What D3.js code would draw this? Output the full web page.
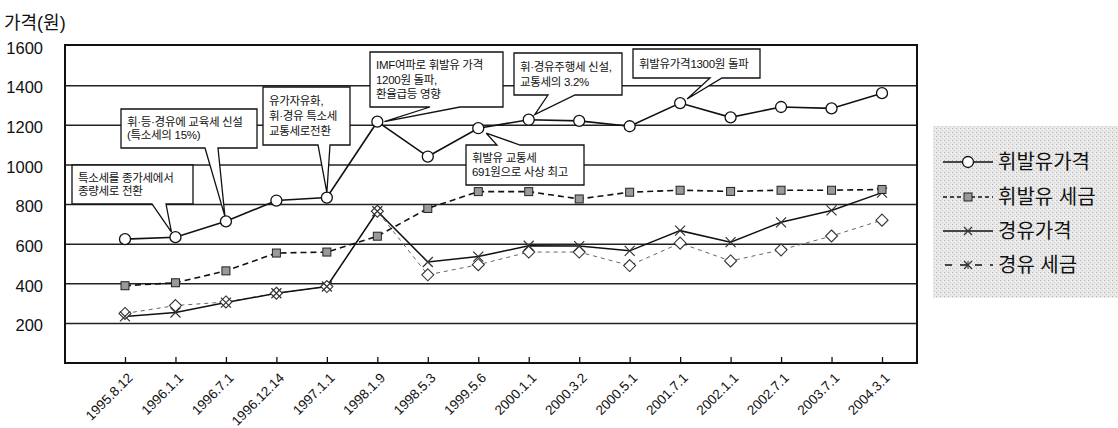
<!DOCTYPE html>
<html>
<head>
<meta charset="utf-8">
<script src="https://cdn.jsdelivr.net/npm/d3@7"></script>
<style>
  body { margin: 0; background: #fff; }
  text { font-family: "Liberation Sans", "Noto Sans CJK KR", sans-serif; fill: #111; }
</style>
</head>
<body>
<div id="chart"></div>
<script>
    // 날짜 (x축)
    var dates = ["1995.8.12", "1996.1.1", "1996.7.1", "1996.12.14", "1997.1.1", "1998.1.9", "1998.5.3", "1999.5.6",
                 "2000.1.1", "2000.3.2", "2000.5.1", "2001.7.1", "2002.1.1", "2002.7.1", "2003.7.1", "2004.3.1"];

    var gasolinePrice = [625, 635, 715, 820, 835, 1218, 1042, 1185, 1228, 1222, 1195, 1312, 1240, 1292, 1285, 1362];
    var gasolineTax   = [390, 405, 465, 555, 560, 640, 780, 865, 865, 828, 862, 872, 866, 872, 872, 876];
    var dieselPrice   = [235, 255, 305, 352, 386, 766, 510, 537, 592, 590, 566, 668, 610, 710, 770, 860];
    var dieselTax     = [250, 290, 308, 352, 386, 766, 445, 496, 560, 560, 492, 605, 515, 571, 641, 721];

    var seriesNames = ["휘발유가격", "휘발유 세금", "경유가격", "경유 세금"];
    var yTicks = [200, 400, 600, 800, 1000, 1200, 1400, 1600];

    // 말풍선: 글, 가리키는 날짜
    var noteTexts = [
      ["특소세를 종가세에서", "종량세로 전환"],
      ["휘·등·경유에 교육세 신설", "(특소세의 15%)"],
      ["유가자유화,", "휘·경유 특소세", "교통세로전환"],
      ["IMF여파로 휘발유 가격", "1200원 돌파,", "환율급등 영향"],
      ["휘·경유주행세 신설,", "교통세의 3.2%"],
      ["휘발유가격1300원 돌파"],
      ["휘발유 교통세", "691원으로 사상 최고"]
    ];
    var noteDates = ["1996.1.1", "1996.7.1", "1997.1.1", "1998.1.9", "2000.1.1", "2001.7.1", "1999.5.6"];

    // box layout (pixels) and pointer base
    var noteLayout = [
      {x: 72,  y: 165, w: 121, h: 39, side: "bottom", b0: 152, b1: 166, dx: -4, dy: -5},
      {x: 121, y: 109, w: 136, h: 39, side: "bottom", b0: 205, b1: 218, dx: -1, dy: -5},
      {x: 263, y: 87,  w: 87,  h: 58, side: "bottom", b0: 318, b1: 330, dx: 0,  dy: -5},
      {x: 370, y: 52,  w: 133, h: 55, side: "bottom", b0: 430, b1: 460, dx: 7,  dy: 0},
      {x: 514, y: 53,  w: 108, h: 42, side: "bottom", b0: 548, b1: 575, dx: 6,  dy: -5},
      {x: 633, y: 49,  w: 127, h: 29, side: "bottom", b0: 710, b1: 722, dx: 7,  dy: -4},
      {x: 466, y: 145, w: 118, h: 40, side: "top",    b0: 497, b1: 520, dx: 8,  dy: 5}
    ];

    var width = 1118, height = 428;
    var plot = {left: 65, right: 917, top: 45, bottom: 363};

    var svg = d3.select("#chart").append("svg")
      .attr("width", width)
      .attr("height", height);

    var defs = svg.append("defs");
    var pat = defs.append("pattern")
      .attr("id", "stipple")
      .attr("width", 4).attr("height", 4)
      .attr("patternUnits", "userSpaceOnUse");
    pat.append("rect").attr("width", 4).attr("height", 4).attr("fill", "#e9e9e9");
    pat.append("rect").attr("x", 0).attr("y", 0).attr("width", 1).attr("height", 1).attr("fill", "#b5b5b5");
    pat.append("rect").attr("x", 2).attr("y", 2).attr("width", 1).attr("height", 1).attr("fill", "#c8c8c8");
    pat.append("rect").attr("x", 3).attr("y", 1).attr("width", 1).attr("height", 1).attr("fill", "#f8f8f8");

    var x = d3.scalePoint()
      .domain(dates)
      .range([125, 882]);

    var y = d3.scaleLinear()
      .domain([0, 1600])
      .range([plot.bottom, plot.top + 1]);

    // y title
    svg.append("text")
      .attr("x", 4).attr("y", 29)
      .attr("font-size", "18px")
      .text("가격(원)");

    // gridlines
    svg.append("g")
      .selectAll("line")
      .data(yTicks.filter(function(d) { return d < 1600; }))
      .enter().append("line")
      .attr("x1", plot.left).attr("x2", plot.right)
      .attr("y1", function(d) { return y(d); })
      .attr("y2", function(d) { return y(d); })
      .attr("stroke", "#222")
      .attr("stroke-width", 1.5);

    // y labels
    svg.append("g")
      .selectAll("text")
      .data(yTicks)
      .enter().append("text")
      .attr("x", 43)
      .attr("y", function(d) { return y(d) + 2; })
      .attr("dy", "0.35em")
      .attr("text-anchor", "end")
      .attr("font-size", "16.5px")
      .text(function(d) { return d; });

    // plot frame
    svg.append("rect")
      .attr("x", plot.left).attr("y", plot.top)
      .attr("width", plot.right - plot.left)
      .attr("height", plot.bottom - plot.top)
      .attr("fill", "none")
      .attr("stroke", "#111")
      .attr("stroke-width", 2);

    // x axis ticks (inside) + labels
    var xAxis = d3.axisBottom(x).tickSize(-6).tickFormat("");
    var gx = svg.append("g")
      .attr("transform", "translate(0," + plot.bottom + ")")
      .call(xAxis);
    gx.select(".domain").remove();
    gx.selectAll(".tick line").attr("stroke", "#111").attr("stroke-width", 1.3);

    svg.append("g")
      .selectAll("text")
      .data(dates)
      .enter().append("text")
      .attr("transform", function(d) { return "translate(" + (x(d) + 2) + "," + (plot.bottom + 9) + ") rotate(-45)"; })
      .attr("text-anchor", "end")
      .attr("dy", "0.7em")
      .attr("font-size", "13.5px")
      .text(function(d) { return d; });

    function pts(vals) {
      return vals.map(function(v, i) { return [x(dates[i]), y(v)]; });
    }
    var line = d3.line();

    var series = [
      {vals: dieselTax,     stroke: "#666", w: 1,   dash: "4,4"},
      {vals: dieselPrice,   stroke: "#111", w: 1.5, dash: null},
      {vals: gasolineTax,   stroke: "#111", w: 1.6, dash: "6,4"},
      {vals: gasolinePrice, stroke: "#111", w: 1.6, dash: null}
    ];

    svg.append("g")
      .selectAll("path")
      .data(series)
      .enter().append("path")
      .attr("d", function(d) { return line(pts(d.vals)); })
      .attr("fill", "none")
      .attr("stroke", function(d) { return d.stroke; })
      .attr("stroke-width", function(d) { return d.w; })
      .attr("stroke-dasharray", function(d) { return d.dash; });

    // markers
    function diamond(g, cx, cy) {
      g.append("path")
        .attr("d", "M" + cx + "," + (cy - 6) + "L" + (cx + 6) + "," + cy + "L" + cx + "," + (cy + 6) + "L" + (cx - 6) + "," + cy + "Z")
        .attr("fill", "#fff").attr("stroke", "#333").attr("stroke-width", 1.1);
    }
    function cross(g, cx, cy, s) {
      g.append("path")
        .attr("d", "M" + (cx - s) + "," + (cy - s) + "L" + (cx + s) + "," + (cy + s) + "M" + (cx - s) + "," + (cy + s) + "L" + (cx + s) + "," + (cy - s))
        .attr("stroke", "#333").attr("stroke-width", 1.2);
    }
    function square(g, cx, cy) {
      g.append("rect")
        .attr("x", cx - 4).attr("y", cy - 4).attr("width", 8).attr("height", 8)
        .attr("fill", "#9a9a9a").attr("stroke", "#222").attr("stroke-width", 1);
    }
    function circle(g, cx, cy) {
      g.append("circle")
        .attr("cx", cx).attr("cy", cy).attr("r", 5.5)
        .attr("fill", "#fff").attr("stroke", "#111").attr("stroke-width", 1.3);
    }

    var mk = svg.append("g");
    pts(dieselTax).forEach(function(p) { diamond(mk, p[0], p[1]); });
    pts(dieselPrice).forEach(function(p) { cross(mk, p[0], p[1], 5); });
    pts(gasolineTax).forEach(function(p) { square(mk, p[0], p[1]); });
    pts(gasolinePrice).forEach(function(p) { circle(mk, p[0], p[1]); });

    // callouts
    function calloutPath(b, tip) {
      var x0 = b.x, x1 = b.x + b.w, y0 = b.y, y1 = b.y + b.h;
      if (b.side === "bottom") {
        return "M" + x0 + "," + y0 + "L" + x1 + "," + y0 + "L" + x1 + "," + y1 +
          "L" + b.b1 + "," + y1 + "L" + tip[0] + "," + tip[1] + "L" + b.b0 + "," + y1 +
          "L" + x0 + "," + y1 + "Z";
      }
      return "M" + x0 + "," + y0 + "L" + b.b0 + "," + y0 + "L" + tip[0] + "," + tip[1] +
        "L" + b.b1 + "," + y0 + "L" + x1 + "," + y0 + "L" + x1 + "," + y1 + "L" + x0 + "," + y1 + "Z";
    }

    var notes = svg.append("g");
    noteTexts.forEach(function(lines, i) {
      var b = noteLayout[i];
      var idx = dates.indexOf(noteDates[i]);
      var tip = [x(noteDates[i]) + b.dx, y(gasolinePrice[idx]) + b.dy];
      notes.append("path")
        .attr("d", calloutPath(b, tip))
        .attr("fill", "#fff")
        .attr("stroke", "#111")
        .attr("stroke-width", 1.3)
        .attr("stroke-linejoin", "miter");
      var lh = lines.length === 1 ? 0 : (b.h - 12) / lines.length;
      notes.append("g").selectAll("text")
        .data(lines)
        .enter().append("text")
        .attr("x", b.x + 6)
        .attr("y", function(d, j) {
          if (lines.length === 1) return b.y + b.h / 2;
          return b.y + 6 + lh * (j + 0.5);
        })
        .attr("dy", "0.35em")
        .attr("font-size", "11.5px")
        .attr("letter-spacing", "-0.3px")
        .text(function(d) { return d; });
    });

    // legend
    var lg = svg.append("g");
    lg.append("rect")
      .attr("x", 933).attr("y", 126).attr("width", 185).attr("height", 172)
      .attr("fill", "url(#stipple)");

    var legendRows = [162, 197, 231, 265];
    var lx0 = 943, lx1 = 993, lmid = 968;
    legendRows.forEach(function(ry, i) {
      var ls = lg.append("line")
        .attr("x1", lx0).attr("x2", lx1).attr("y1", ry).attr("y2", ry)
        .attr("stroke", "#111").attr("stroke-width", 1.3);
      if (i === 1) ls.attr("stroke-dasharray", "4,3");
      if (i === 3) ls.attr("stroke-dasharray", "7,8").attr("x1", lx0 + 2);
      if (i === 0) circle(lg, lmid, ry);
      if (i === 1) square(lg, lmid, ry);
      if (i === 2) cross(lg, lmid, ry, 4);
      if (i === 3) { cross(lg, lmid, ry, 4); lg.append("line").attr("x1", lmid).attr("x2", lmid).attr("y1", ry - 4).attr("y2", ry + 4).attr("stroke", "#333"); }
      lg.append("text")
        .attr("x", 998).attr("y", ry)
        .attr("dy", "0.36em")
        .attr("font-size", "20px")
        .attr("font-family", "'Noto Sans CJK KR', sans-serif")
        .text(seriesNames[i]);
    });
</script>
</body>
</html>
